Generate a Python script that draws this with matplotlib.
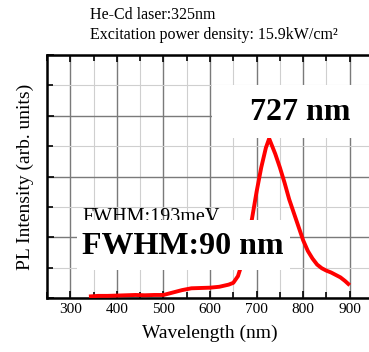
import matplotlib
matplotlib.use("Agg")
import matplotlib.pyplot as plt
from matplotlib.patches import Rectangle
from matplotlib.ticker import MultipleLocator

plt.rcParams["font.family"] = ["Liberation Serif", "DejaVu Serif"]

# PL spectrum (wavelength in nm, intensity in arb. units)
wavelength = [340, 360, 380, 400, 420, 440, 460, 480, 500, 520, 540, 560, 580,
              600, 620, 640, 650, 660, 670, 680, 690, 700, 710, 720, 727, 740,
              750, 760, 770, 780, 790, 800, 810, 820, 830, 840, 850, 860, 870,
              880, 890, 900]
intensity = [0.05, 0.07, 0.07, 0.08, 0.09, 0.10, 0.09, 0.10, 0.10, 0.18, 0.26,
             0.32, 0.33, 0.34, 0.37, 0.44, 0.50, 0.72, 1.20, 1.85, 2.60, 3.50,
             4.30, 4.95, 5.25, 4.75, 4.30, 3.80, 3.25, 2.80, 2.35, 1.90, 1.55,
             1.30, 1.10, 0.98, 0.90, 0.84, 0.76, 0.68, 0.56, 0.42]

x_ticks = [300, 400, 500, 600, 700, 800, 900]
header = ["He-Cd laser:325nm", "Excitation power density: 15.9kW/cm\u00b2"]

fig = plt.figure(figsize=(3.69, 3.52), dpi=100)
ax = fig.add_axes([0.1274, 0.1534, 0.8835, 0.690])

ax.plot(wavelength, intensity, color="red", lw=2.8, zorder=3, solid_capstyle="butt")

ax.set_xlim(250, 950)
ax.set_ylim(0, 8)
ax.set_xticks(x_ticks)
ax.xaxis.set_minor_locator(MultipleLocator(50))
ax.yaxis.set_major_locator(MultipleLocator(2))
ax.yaxis.set_minor_locator(MultipleLocator(1))
ax.set_yticklabels([])

ax.grid(which="major", color="#7a7a7a", lw=1.0, zorder=0)
ax.grid(which="minor", color="#cfcfcf", lw=0.8, zorder=0)
ax.set_axisbelow(True)

ax.tick_params(which="both", direction="in", top=True, right=False,
               width=1.2, labelsize=11)
ax.tick_params(which="major", length=5)
ax.tick_params(which="minor", length=4)
for s in ax.spines.values():
    s.set_linewidth(1.8)

ax.set_xlabel("Wavelength (nm)", fontsize=14, labelpad=6)
ax.set_ylabel("PL Intensity (arb. units)", fontsize=14, labelpad=6)

# annotation boxes
ax.add_patch(Rectangle((0.506, 0.658), 0.6, 0.219, transform=ax.transAxes,
                       facecolor="white", edgecolor="none", zorder=4))
ax.text(0.776, 0.765, "727 nm", transform=ax.transAxes, ha="center", va="center",
        fontsize=23, fontweight="bold", zorder=5)

ax.text(0.11, 0.313, "FWHM:193meV", transform=ax.transAxes, ha="left",
        va="baseline", fontsize=14.5, zorder=4)
ax.add_patch(Rectangle((0.092, 0.115), 0.653, 0.206, transform=ax.transAxes,
                       facecolor="white", edgecolor="none", zorder=4.5))
ax.text(0.417, 0.21, "FWHM:90 nm", transform=ax.transAxes, ha="center",
        va="center", fontsize=23, fontweight="bold", zorder=5)

fig.text(90 / 369, 1 - 15 / 352, header[0], ha="left", va="center", fontsize=11.5)
fig.text(90 / 369, 1 - 35 / 352, header[1], ha="left", va="center", fontsize=11.5)

fig.savefig("out.png", dpi=100)
